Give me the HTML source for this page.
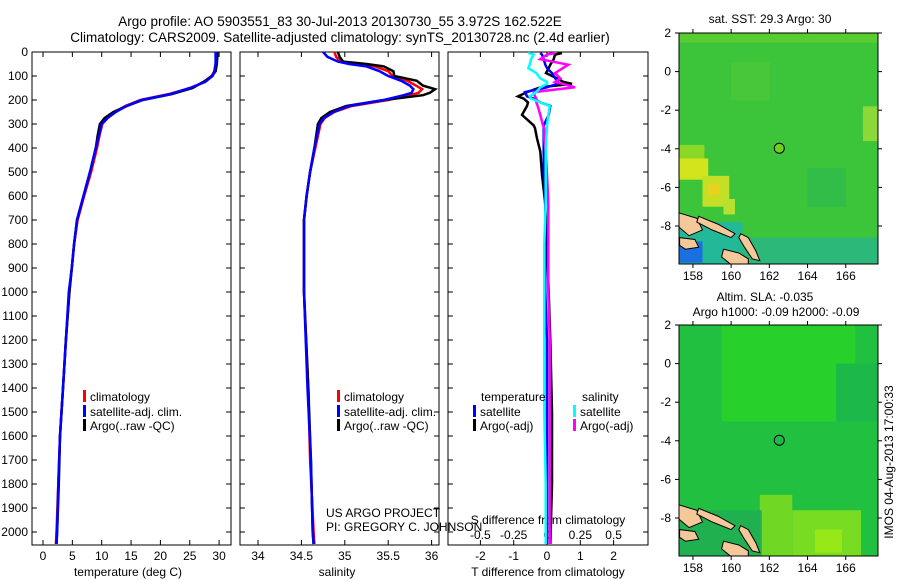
<!DOCTYPE html>
<html><head><meta charset="utf-8"><style>
html,body{margin:0;padding:0;background:#fff;}
svg{display:block;font-family:"Liberation Sans",sans-serif;}
text{font-size:12px;fill:#000;}
</style></head><body>
<svg id="fig" width="900" height="580" viewBox="0 0 900 580"></svg>
<script>
// ---------- data ----------
const depthTicks=[0,100,200,300,400,500,600,700,800,900,1000,1100,1200,1300,1400,1500,1600,1700,1800,1900,2000];
const tTicks=[0,5,10,15,20,25,30];
const sTicks=[34,34.5,35,35.5,36];
const dTTicks=[-2,-1,0,1,2];
const dSTicks=[-0.5,-0.25,0,0.25,0.5];
const tDepth=[0,20,50,80,100,125,150,175,200,225,250,275,300,350,400,500,600,700,800,900,1000,1200,1400,1600,1800,2000,2050];
const argoT=[29.7,29.7,29.6,29.4,28.8,27.3,25.5,22,17,14.3,12,10.5,9.7,9.3,9.0,8.0,6.9,5.8,5.3,4.9,4.5,3.9,3.4,2.9,2.7,2.4,2.3];
const climT=[29.5,29.5,29.4,29.2,28.7,27.4,25.2,21.5,16.6,14.0,12.3,11.0,10.1,9.6,9.2,8.2,7.0,5.9,5.3,4.9,4.5,3.9,3.4,2.9,2.6,2.3,2.2];
const satT=[29.4,29.4,29.4,29.2,28.9,27.6,25.0,21.8,16.8,14.2,12.4,11.0,10.0,9.5,9.0,8.0,6.9,5.8,5.3,4.9,4.4,3.9,3.4,2.9,2.6,2.4,2.3];
const sDepth=[0,20,40,50,60,80,100,120,140,155,170,180,200,225,250,275,300,400,500,600,700,1000,1400,1700,2000,2050];
const argoS=[34.92,34.94,34.98,35.25,35.45,35.56,35.57,35.83,35.9,36.04,35.98,35.9,35.45,35.02,34.83,34.73,34.69,34.65,34.6,34.56,34.53,34.53,34.58,34.61,34.63,34.64];
const climS=[34.88,34.9,34.95,35.15,35.35,35.5,35.55,35.72,35.82,35.89,35.85,35.75,35.5,35.08,34.88,34.77,34.72,34.66,34.6,34.56,34.53,34.53,34.58,34.6,34.64,34.65];
const satS=[34.75,34.8,34.92,35.05,35.25,35.4,35.5,35.65,35.75,35.79,35.77,35.68,35.45,35.05,34.87,34.76,34.71,34.65,34.6,34.56,34.53,34.53,34.57,34.61,34.63,34.64];
const dDepth=[4,11,30,53,67,88,110,125,133,147,167,185,194,210,225,262,306,317,360,414,511,622,800,1000,1200,1500,1800,2050];
const dTargo=[0.45,0.24,0.2,0.1,0.05,-0.03,0.3,0.5,0.75,-0.2,-0.6,-0.87,-0.7,-0.57,-0.6,-0.75,-0.4,-0.36,-0.3,-0.2,-0.15,-0.06,0.0,0.05,0.1,0.15,0.15,0.1];
const dTsat=[-0.2,-0.15,-0.1,-0.05,0,0.15,0.25,0.33,0.3,0.0,-0.66,-0.6,-0.4,-0.2,0.1,0.05,-0.1,-0.1,-0.1,-0.1,-0.1,-0.05,-0.05,-0.05,0,0,0,0];
const dSsat=[-0.14,-0.1,-0.12,-0.13,-0.14,-0.08,-0.05,0,0,-0.05,-0.08,-0.13,-0.12,-0.05,0.02,0.01,0,0,-0.005,-0.01,-0.01,-0.01,-0.02,-0.02,-0.02,-0.02,-0.01,-0.01];
const dSargo=[0.06,0.0,-0.05,0.16,0.12,0.06,0.1,0.06,0.12,0.21,-0.1,-0.09,-0.08,-0.08,-0.07,-0.05,-0.03,-0.02,-0.02,-0.01,0,0.01,0.01,0.01,0.02,0.02,0.02,0.02];
const lonTicks=[158,160,162,164,166];
const latTicks=[2,0,-2,-4,-6,-8];
// map patches: lonMin, lonMax, latMax, latMin, color
const sstPatches=[[157.3,158.6,-3.8,-4.9,'#8cd828'],[157.3,158.8,-4.5,-5.6,'#d4e41c'],[158.5,159.9,-5.4,-7.0,'#c4e026'],[158.8,159.4,-5.8,-6.4,'#e8d21e'],[159.6,160.2,-6.6,-7.4,'#b8e030'],[157.3,160.6,-7.8,-10,'#22b898'],[157.3,158.5,-8.8,-9.9,'#1a70e0'],[160.5,167.7,-8.6,-10,'#2cb878'],[166.9,167.7,-1.8,-3.6,'#8cd838'],[160,162,0.5,-1.5,'#48c838'],[157.3,167.7,2,1.5,'#58cc30'],[164,166,-5,-7,'#32bc48']];
const slaPatches=[[159.5,166.5,2,-3,'#28d02c'],[161.5,163.2,-6.8,-10,'#70d824'],[163.2,166.8,-7.6,-10,'#78dc22'],[164.4,165.8,-8.6,-9.8,'#98e818'],[157.3,161.6,-7.6,-10,'#20b050'],[165.5,167.7,0,-3,'#1cb84a']];
const argoLon=162.52, argoLat=-3.97;

const svg=document.getElementById('fig');
const NS='http://www.w3.org/2000/svg';
function el(tag,attrs,parent){const e=document.createElementNS(NS,tag);for(const k in attrs)e.setAttribute(k,attrs[k]);(parent||svg).appendChild(e);return e;}
function txt(x,y,s,anchor,parent,size){const t=el('text',{x:x,y:y,'text-anchor':anchor||'start'},parent);if(size)t.style.fontSize=size+'px';t.textContent=s;return t;}

// titles
let t1=txt(340,26,'Argo profile: AO 5903551_83 30-Jul-2013 20130730_55 3.972S 162.522E','middle',null,13.5);


let t2=txt(340,42,'Climatology: CARS2009. Satellite-adjusted climatology: synTS_20130728.nc (2.4d earlier)','middle',null,13.5);



const TOP=52,BOT=545;
const yD=d=>TOP+d*0.24;
function panel(x0,x1,name){
  const g=el('g',{});
  
  
  el('rect',{x:x0,y:TOP,width:x1-x0,height:BOT-TOP,fill:'#fff',stroke:'#000','stroke-width':1},g);
  depthTicks.forEach(d=>{el('line',{x1:x0,x2:x0+5,y1:yD(d),y2:yD(d),stroke:'#000'},g);el('line',{x1:x1,x2:x1-5,y1:yD(d),y2:yD(d),stroke:'#000'},g);});
  return g;
}
function line(g,xs,ds,fx,color,name,w){
  const pts=xs.map((v,i)=>fx(v).toFixed(1)+','+yD(ds[i]).toFixed(1)).join(' ');
  const p=el('polyline',{points:pts,fill:'none',stroke:color,'stroke-width':w||2.5,'stroke-linejoin':'miter'},g);
  
  
}
function legend(g,x,y,color,label,name){
  el('rect',{x:x,y:y-11,width:3,height:12,fill:color},g);
  const t=txt(x+7,y,label,'start',g);
  
  
}
// depth labels
const dl=el('g',{});


depthTicks.forEach(d=>txt(28,yD(d)+4,String(d),'end',dl));

// Panel 1 temperature
const xT=v=>43+v*5.87;
const p1=panel(32,231,'temperature-panel');
tTicks.forEach(v=>{el('line',{x1:xT(v),x2:xT(v),y1:TOP,y2:TOP+5,stroke:'#000'},p1);el('line',{x1:xT(v),x2:xT(v),y1:BOT,y2:BOT-5,stroke:'#000'},p1);txt(xT(v),560,String(v),'middle',p1);});
let xl=txt(128,576,'temperature (deg C)','middle',p1);


line(p1,climT,tDepth,xT,'#f00','climatology-temperature-line');
line(p1,argoT,tDepth,xT,'#000','argo-temperature-line');
line(p1,satT,tDepth,xT,'#00f','satellite-temperature-line');
legend(p1,83,401,'#f00','climatology','legend-climatology');
legend(p1,83,416,'#00f','satellite-adj. clim.','legend-satellite');
legend(p1,83,430,'#000','Argo(..raw -QC)','legend-argo');

// Panel 2 salinity
const xS=v=>258+(v-34)*86.8;
const p2=panel(240,439,'salinity-panel');
sTicks.forEach(v=>{el('line',{x1:xS(v),x2:xS(v),y1:TOP,y2:TOP+5,stroke:'#000'},p2);el('line',{x1:xS(v),x2:xS(v),y1:BOT,y2:BOT-5,stroke:'#000'},p2);txt(xS(v),560,String(v),'middle',p2);});
let sl=txt(337,576,'salinity','middle',p2);


line(p2,climS,sDepth,xS,'#f00','climatology-salinity-line');
line(p2,argoS,sDepth,xS,'#000','argo-salinity-line');
line(p2,satS,sDepth,xS,'#00f','satellite-salinity-line');
legend(p2,337,401,'#f00','climatology','legend-climatology-2');
legend(p2,337,416,'#00f','satellite-adj. clim.','legend-satellite-2');
legend(p2,337,430,'#000','Argo(..raw -QC)','legend-argo-2');

// Panel 3 differences
const xdT=v=>547+v*33.3;
const xdS=v=>547+v*133.3;
const p3=panel(448,648,'difference-panel');
dTTicks.forEach(v=>{el('line',{x1:xdT(v),x2:xdT(v),y1:TOP,y2:TOP+5,stroke:'#000'},p3);el('line',{x1:xdT(v),x2:xdT(v),y1:BOT,y2:BOT-5,stroke:'#000'},p3);txt(xdT(v),560,String(v),'middle',p3);});
dSTicks.forEach(v=>txt(xdS(v),539,String(v),'middle',p3));
let st=txt(548,524,'S difference from climatology','middle',p3);


let tt=txt(548,576,'T difference from climatology','middle',p3);


line(p3,dTargo,dDepth,xdT,'#000','argo-t-difference-line');
line(p3,dTsat,dDepth,xdT,'#00f','satellite-t-difference-line');
line(p3,dSargo,dDepth,xdS,'#f0f','argo-s-difference-line');
line(p3,dSsat,dDepth,xdS,'#0ff','satellite-s-difference-line');
txt(481,401,'temperature','start',p3);
txt(582,401,'salinity','start',p3);
legend(p3,473,416,'#00f','satellite','legend-t-satellite');
legend(p3,473,430,'#000','Argo(-adj)','legend-t-argo');
legend(p3,573,416,'#0ff','satellite','legend-s-satellite');
legend(p3,573,430,'#f0f','Argo(-adj)','legend-s-argo');

let cr=el('g',{});


txt(326,517,'US ARGO PROJECT','start',cr);
txt(326,531,'PI: GREGORY C. JOHNSON','start',cr);

// Maps
function map(top,base,patches,name,circleFill){
  const L=679,R=878,H=231;
  const mx=lon=>L+(lon-157.27)*19.1;
  const my=lat=>top+(2-lat)*19.3;
  const g=el('g',{});
  
  
  const cp='clip'+top;
  const defs=el('defs',{},g);const c=el('clipPath',{id:cp},defs);el('rect',{x:L,y:top,width:R-L,height:H},c);
  const inner=el('g',{'clip-path':'url(#'+cp+')'},g);
  el('rect',{x:L,y:top,width:R-L,height:H,fill:base},inner);
  patches.forEach(p=>{
    const r=el('rect',{x:mx(p[0]),y:my(p[2]),width:mx(p[1])-mx(p[0]),height:my(p[3])-my(p[2]),fill:p[4]},inner);
    
    
  });
  // islands
  const isl=[[[157.2,-7.3],[158.2,-7.6],[158.5,-8.2],[157.8,-8.5],[157.2,-8.0]],
             [[158.3,-7.5],[159.3,-7.9],[160.2,-8.4],[160.0,-8.6],[159.0,-8.2],[158.2,-7.8]],
             [[157.3,-8.6],[158.1,-8.7],[158.3,-9.1],[157.6,-9.2],[157.3,-9.0]],
             [[160.5,-8.4],[160.9,-8.6],[161.3,-9.3],[161.5,-9.8],[161.1,-9.7],[160.7,-9.1],[160.4,-8.6]],
             [[159.6,-9.2],[160.4,-9.4],[160.9,-9.7],[160.9,-10.1],[160.0,-10.0],[159.5,-9.6]]];
  isl.forEach(poly=>{
    const pg=el('polygon',{points:poly.map(q=>mx(q[0]).toFixed(1)+','+my(q[1]).toFixed(1)).join(' '),fill:'#f5c89a',stroke:'#000','stroke-width':1},inner);
    
    
  });
  el('rect',{x:L,y:top,width:R-L,height:H,fill:'none',stroke:'#000'},g);
  lonTicks.forEach(v=>{el('line',{x1:mx(v),x2:mx(v),y1:top,y2:top-4,stroke:'#000'},g);el('line',{x1:mx(v),x2:mx(v),y1:top+H,y2:top+H+4,stroke:'#000'},g);txt(mx(v),top+H+16,String(v),'middle',g);});
  latTicks.forEach(v=>{el('line',{x1:L,x2:L-4,y1:my(v),y2:my(v),stroke:'#000'},g);el('line',{x1:R,x2:R+4,y1:my(v),y2:my(v),stroke:'#000'},g);txt(L-8,my(v)+4,String(v),'end',g);});
  const ci=el('circle',{cx:mx(argoLon),cy:my(argoLat),r:5,fill:circleFill,stroke:'#000','stroke-width':1},g);
  
  
}
let m1t=txt(770,23,'sat. SST: 29.3 Argo: 30','middle',null,12);


map(33,'#3cc43a',sstPatches,'sst-map','#70d020');
let m2a=txt(765,301,'Altim. SLA: -0.035','middle',null,12);


let m2b=txt(776,316,'Argo h1000: -0.09 h2000: -0.09','middle',null,12);


map(325,'#22c040',slaPatches,'sla-map','#20b848');
let ts=txt(0,0,'IMOS 04-Aug-2013 17:00:33','middle',null,12);
ts.setAttribute('transform','translate(893,462) rotate(-90)');


</script>
</body></html>
